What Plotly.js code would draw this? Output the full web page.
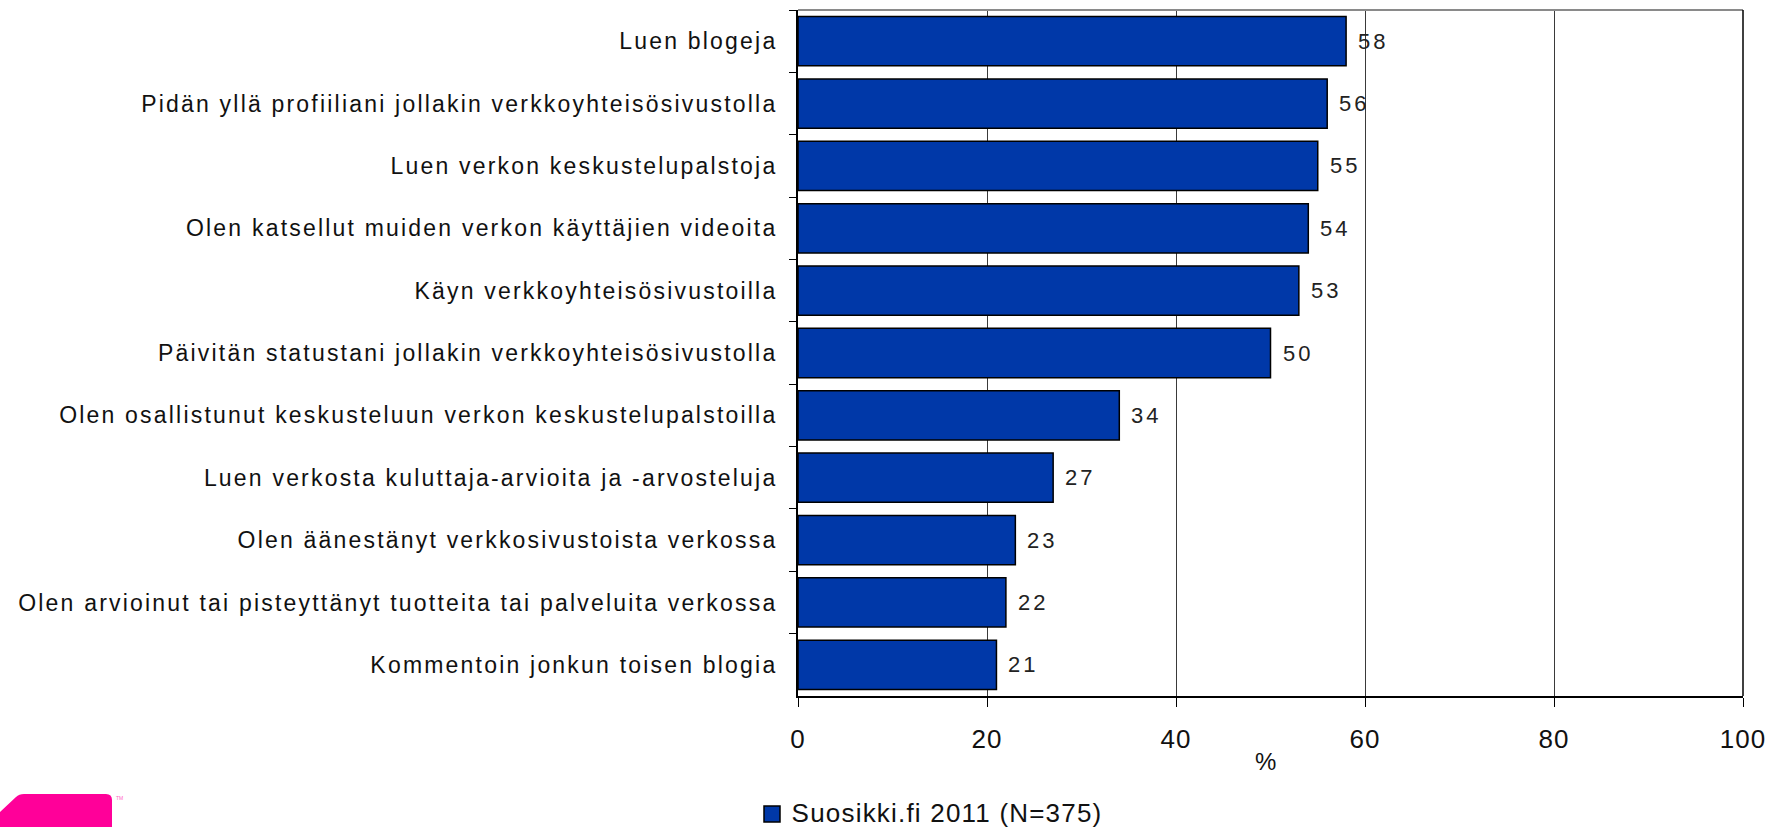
<!DOCTYPE html>
<html>
<head>
<meta charset="utf-8">
<script src="https://cdn.plot.ly/plotly-3.0.1.min.js"></script>
<style>
html,body{margin:0;padding:0;background:#fff;}
#chart{width:1782px;height:827px;}
.ytick text{letter-spacing:2.2px;}
.xtick text{letter-spacing:1px;}
g.annotation text{letter-spacing:3px;}
g.annotation[data-index="11"] text{letter-spacing:0;}
g.annotation[data-index="12"] text{letter-spacing:0;}
g.annotation[data-index="13"] text{letter-spacing:1.2px;}
</style>
</head>
<body>
<div id="chart"></div>
<script>
const categories = [
  "Luen blogeja",
  "Pidän yllä profiiliani jollakin verkkoyhteisösivustolla",
  "Luen verkon keskustelupalstoja",
  "Olen katsellut muiden verkon käyttäjien videoita",
  "Käyn verkkoyhteisösivustoilla",
  "Päivitän statustani jollakin verkkoyhteisösivustolla",
  "Olen osallistunut keskusteluun verkon keskustelupalstoilla",
  "Luen verkosta kuluttaja-arvioita ja -arvosteluja",
  "Olen äänestänyt verkkosivustoista verkossa",
  "Olen arvioinut tai pisteyttänyt tuotteita tai palveluita verkossa",
  "Kommentoin jonkun toisen blogia"
];
const values = [58, 56, 55, 54, 53, 50, 34, 27, 23, 22, 21];
const seriesName = "Suosikki.fi 2011 (N=375)";
const xTickVals = [0, 20, 40, 60, 80, 100];
const xTitle = "%";

const W = 1782, H = 827;
const M = {l: 798, r: 39, t: 10, b: 131};
const pw = W - M.l - M.r, ph = H - M.t - M.b;
const px = x => (x - M.l) / pw;
const py = y => (H - M.b - y) / ph;

const blue = "#0038a8";
const FONT = "Liberation Sans, Arial, sans-serif";

const trace = {
  type: "bar",
  orientation: "h",
  y: categories,
  x: values,
  name: seriesName,
  marker: {color: blue, line: {color: "#000", width: 1.5}},
  hoverinfo: "x+y",
  showlegend: false
};

const annotations = values.map((v, i) => ({
  x: v, y: categories[i], xref: "x", yref: "y",
  text: String(v), showarrow: false, xanchor: "left", yanchor: "middle",
  xshift: 13,
  font: {family: FONT, size: 22, color: "#222"}
}));
annotations.push({
  x: px(1265), y: py(762), xref: "paper", yref: "paper",
  text: xTitle, showarrow: false, xanchor: "center", yanchor: "middle",
  font: {family: FONT, size: 24, color: "#111"}
});
annotations.push({
  x: px(119), y: py(798), xref: "paper", yref: "paper",
  text: "TM", showarrow: false, xanchor: "center", yanchor: "middle",
  font: {family: FONT, size: 5, color: "#ff66c4"}
});
// legend entry (text)
annotations.push({
  x: px(804), y: py(813), xref: "paper", yref: "paper",
  text: seriesName, showarrow: false, xanchor: "left", yanchor: "middle",
  font: {family: FONT, size: 26, color: "#111"}
});

function pathFromPx(pts){
  return pts.map((p, i) => (p[0] === "Q" ? "Q" + px(p[1]) + "," + py(p[2]) + " " + px(p[3]) + "," + py(p[4]) : (i === 0 ? "M" : "L") + px(p[0]) + "," + py(p[1]))).join(" ") + " Z";
}
const logoPath = pathFromPx([
  [0, 812], [16, 797], ["Q", 19, 794, 24, 794], [106, 794], ["Q", 112, 794, 112, 800], [112, 830], [0, 830]
]);

const layout = {
  width: W, height: H,
  margin: M,
  paper_bgcolor: "#fff", plot_bgcolor: "#fff",
  showlegend: false,
  bargap: 0.21,
  font: {family: FONT, color: "#111"},
  xaxis: {
    range: [0, 100], tickvals: xTickVals, ticktext: xTickVals.map(String),
    showgrid: true, gridcolor: "#3a3a3a", gridwidth: 1,
    showline: true, linecolor: "#000", linewidth: 1.5,
    ticks: "outside", ticklen: 9, tickcolor: "#000", tickwidth: 1,
    tickfont: {family: FONT, size: 26, color: "#111"},
    ticklabelstandoff: 10,
    zeroline: false, fixedrange: true
  },
  yaxis: {
    type: "category", autorange: "reversed",
    showline: true, linecolor: "#000", linewidth: 2,
    ticks: "outside", tickson: "boundaries", ticklen: 7, tickcolor: "#000", tickwidth: 1,
    tickfont: {family: FONT, size: 23, color: "#111"},
    ticklabelstandoff: 14,
    showgrid: false, zeroline: false, fixedrange: true
  },
  annotations: annotations,
  shapes: [
    {type: "line", xref: "paper", yref: "paper", x0: 0, x1: 1, y0: 1, y1: 1,
     line: {color: "#8a8a8a", width: 2}},
    {type: "line", xref: "paper", yref: "paper", x0: 1, x1: 1, y0: 0, y1: 1,
     line: {color: "#000", width: 1.5}},
    // legend marker
    {type: "rect", xref: "paper", yref: "paper",
     x0: px(764), x1: px(780), y0: py(822), y1: py(806),
     fillcolor: blue, line: {color: "#000", width: 1.5}},
    {type: "path", xref: "paper", yref: "paper", path: logoPath,
     fillcolor: "#ff0099", line: {width: 0}, layer: "above"}
  ]
};

Plotly.newPlot("chart", [trace], layout, {displayModeBar: false});
</script>
</body>
</html>
